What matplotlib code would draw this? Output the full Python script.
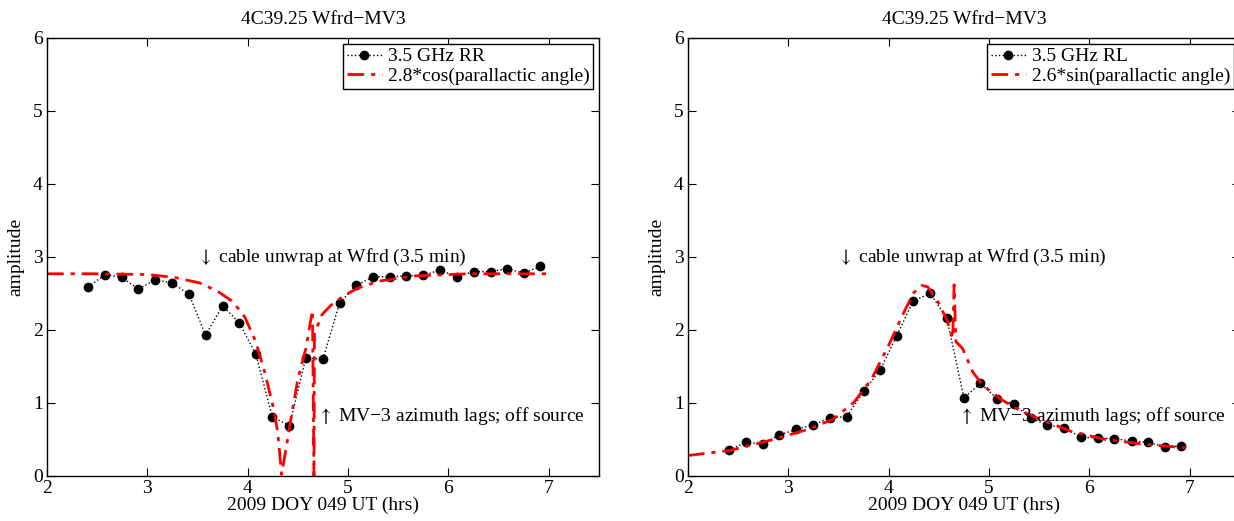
import numpy as np
import matplotlib
matplotlib.use('Agg')
import matplotlib.pyplot as plt

plt.rcParams['font.family'] = ['Liberation Serif', 'DejaVu Serif']
plt.rcParams['mathtext.fontset'] = 'stix'

# observation times (hrs UT)
obs_time = [2.41, 2.58, 2.745, 2.91, 3.08, 3.25, 3.415, 3.58, 3.75, 3.915, 4.08, 4.245,
            4.415, 4.58, 4.75, 4.915, 5.08, 5.25, 5.415, 5.58, 5.75, 5.915, 6.085, 6.25,
            6.42, 6.585, 6.75, 6.915]

# measured amplitudes
rr_amp = [2.59, 2.76, 2.72, 2.56, 2.69, 2.64, 2.49, 1.93, 2.33, 2.10, 1.67, 0.81,
          0.69, 1.62, 1.60, 2.37, 2.61, 2.73, 2.73, 2.74, 2.75, 2.82, 2.73, 2.80,
          2.80, 2.84, 2.78, 2.87]
rl_amp = [0.36, 0.46, 0.44, 0.56, 0.64, 0.70, 0.80, 0.81, 1.16, 1.45, 1.92, 2.40,
          2.50, 2.16, 1.07, 1.27, 1.06, 0.98, 0.79, 0.70, 0.66, 0.53, 0.52, 0.51,
          0.48, 0.46, 0.40, 0.41]

# model curves
rr_model_t = [2.0, 2.45, 3.0, 3.27, 3.52, 3.70, 3.85, 3.97, 4.08, 4.17, 4.26, 4.30,
              4.337, 4.38, 4.43, 4.50, 4.58, 4.645, 4.66, 4.665, 4.74, 4.83, 4.95,
              5.09, 5.31, 5.66, 6.20, 7.0]
rr_model_y = [2.77, 2.77, 2.76, 2.72, 2.645, 2.53, 2.39, 2.18, 1.84, 1.42, 0.91, 0.59,
              0.02, 0.36, 0.78, 1.33, 1.75, 2.27, 0.0, 1.95, 2.21, 2.34, 2.46,
              2.57, 2.67, 2.74, 2.77, 2.77]

rl_model_t = [2.0, 2.42, 2.85, 3.20, 3.45, 3.655, 3.83, 4.0, 4.14, 4.25, 4.33, 4.39,
              4.49, 4.58, 4.638, 4.652, 4.67, 4.735, 4.84, 4.94, 5.12, 5.29, 5.47,
              5.82, 6.16, 6.51, 7.0]
rl_model_y = [0.28, 0.35, 0.50, 0.64, 0.78, 1.01, 1.33, 1.79, 2.21, 2.51, 2.61, 2.59,
              2.39, 2.14, 1.88, 2.62, 1.84, 1.75, 1.42, 1.24, 1.05, 0.91, 0.80,
              0.61, 0.50, 0.44, 0.38]

fs = 14
fig = plt.figure(figsize=(12.34, 5.21), dpi=100)
ax1 = fig.add_axes([0.0381, 0.0864, 0.4473, 0.8407])
ax2 = fig.add_axes([0.5575, 0.0864, 0.4473, 0.8407])

panels = [(ax1, rr_amp, rr_model_t, rr_model_y, '3.5 GHz RR', '2.8*cos(parallactic angle)'),
          (ax2, rl_amp, rl_model_t, rl_model_y, '3.5 GHz RL', '2.6*sin(parallactic angle)')]

for ax, amp, mt, my, lab1, lab2 in panels:
    ax.plot(obs_time, amp, color='black', linestyle=':', linewidth=1,
            marker='o', markersize=6, label=lab1)
    ax.plot(mt, my, color='red', linestyle=(0, (6, 2.5, 1.5, 2.5)), linewidth=2, label=lab2)
    ax.set_xlim(2, 7.5)
    ax.set_ylim(0, 6)
    ax.set_xticks([2, 3, 4, 5, 6, 7])
    ax.set_yticks([0, 1, 2, 3, 4, 5, 6])
    ax.tick_params(direction='in', top=True, right=True, labelsize=fs, length=6, pad=3)
    for s in ax.spines.values():
        s.set_linewidth(1.0)
    ax.set_title('4C39.25 Wfrd\u2212MV3', fontsize=fs, pad=10)
    ax.set_xlabel('2009 DOY 049 UT (hrs)', fontsize=fs, labelpad=0)
    ax.set_ylabel('amplitude', fontsize=fs, labelpad=6)
    leg = ax.legend(loc='upper right', fontsize=fs, fancybox=False, framealpha=1,
                    edgecolor='black', handlelength=1.8, handletextpad=0.3,
                    borderpad=0.2, labelspacing=0.1, borderaxespad=0.3)
    leg.get_frame().set_linewidth(1.0)
    ax.text(3.5, 3.0, r'$\downarrow$ cable unwrap at Wfrd (3.5 min)', fontsize=fs, va='center')
    ax.text(4.70, 0.82, r'$\uparrow$ MV' + '\u2212' + '3 azimuth lags; off source',
            fontsize=fs, va='center')

fig.savefig('out.png', dpi=100)
